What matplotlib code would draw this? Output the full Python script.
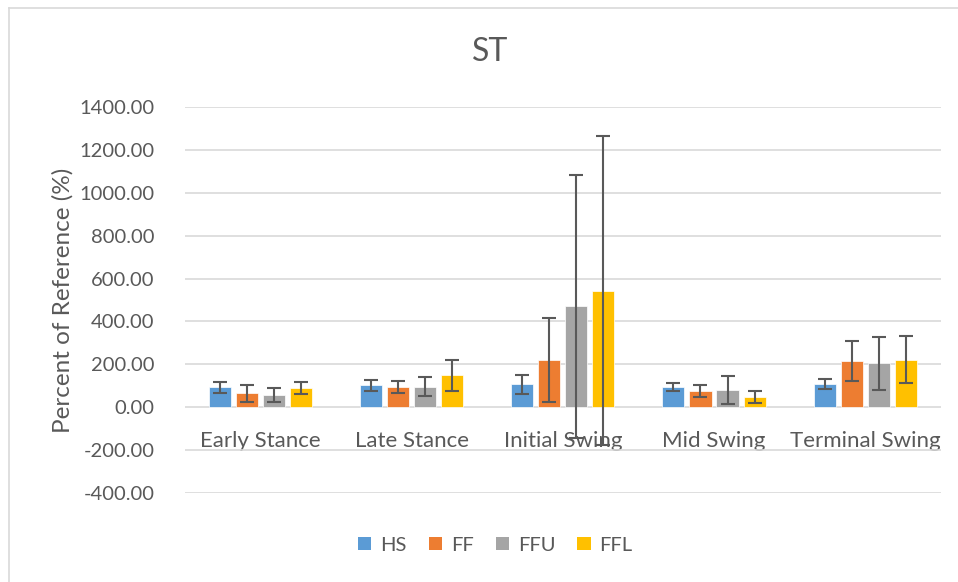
import matplotlib.pyplot as plt
import numpy as np
from matplotlib.patches import Patch
from matplotlib.lines import Line2D

plt.rcParams['font.family'] = ['Lato', 'DejaVu Sans']

phases = ['Early Stance', 'Late Stance', 'Initial Swing', 'Mid Swing', 'Terminal Swing']
series = ['HS', 'FF', 'FFU', 'FFL']
colors = ['#5B9BD5', '#ED7D31', '#A5A5A5', '#FFC000']

# mean values and error (+/-) per phase
hs = [92, 102, 107, 95, 108]
hs_err = [27, 26, 44, 20, 24]
ff = [65, 95, 220, 75, 215]
ff_err = [40, 28, 196, 28, 93]
ffu = [57, 95, 470, 80, 204]
ffu_err = [34, 45, 615, 66, 124]
ffl = [90, 148, 543, 48, 222]
ffl_err = [28, 74, 720, 28, 110]

means = [hs, ff, ffu, ffl]
errs = [hs_err, ff_err, ffu_err, ffl_err]

fig = plt.figure(figsize=(9.58, 5.82), dpi=100)
ax = fig.add_axes([0.193, 0.153, 0.789, 0.663])

x = np.arange(len(phases))
step = 0.179
width = 0.146
for i, (m, e) in enumerate(zip(means, errs)):
    pos = x + (i - 1.5) * step
    ax.bar(pos, m, width, color=colors[i], edgecolor='white', linewidth=0.5, zorder=2)
    ax.errorbar(pos, m, yerr=e, fmt='none', ecolor='#595959', elinewidth=1.5,
                capsize=5, capthick=1.5, zorder=3)

ax.set_xlim(-0.5, 4.5)
ax.set_ylim(-400, 1400)
ax.set_yticks(np.arange(-400, 1401, 200))
ax.set_yticklabels(['%.2f' % v for v in np.arange(-400, 1401, 200)])
ax.grid(axis='y', color='#D9D9D9', linewidth=1.2, zorder=0)
ax.set_axisbelow(True)

ax.set_xticks(x)
ax.set_xticklabels(phases)
ax.spines['bottom'].set_position(('data', 0))
for s in ['top', 'right', 'left', 'bottom']:
    ax.spines[s].set_visible(False)
ax.tick_params(axis='x', length=0, pad=17, labelsize=16, labelcolor='#595959')
ax.tick_params(axis='y', length=0, pad=22, labelsize=14.5, labelcolor='#595959')

ax.set_ylabel('Percent of Reference (%)', fontsize=17.5, color='#595959', labelpad=4)
fig.text(0.512, 0.91, 'ST', ha='center', va='center', fontsize=23, color='#595959')

handles = [Patch(facecolor=c, edgecolor='none') for c in colors]
fig.legend(handles, series, loc='center', bbox_to_anchor=(0.517, 0.063), ncol=4,
           frameon=False, fontsize=14.5, labelcolor='#595959', handlelength=0.65,
           handleheight=0.65, handletextpad=0.45, columnspacing=1.1)

# chart frame (left and top edges only)
fig.add_artist(Line2D([9 / 958, 9 / 958], [0, 1 - 8 / 582], color='#D9D9D9', lw=1.2))
fig.add_artist(Line2D([9 / 958, 1], [1 - 8 / 582, 1 - 8 / 582], color='#D9D9D9', lw=1.2))

fig.savefig('out.png', dpi=100)
